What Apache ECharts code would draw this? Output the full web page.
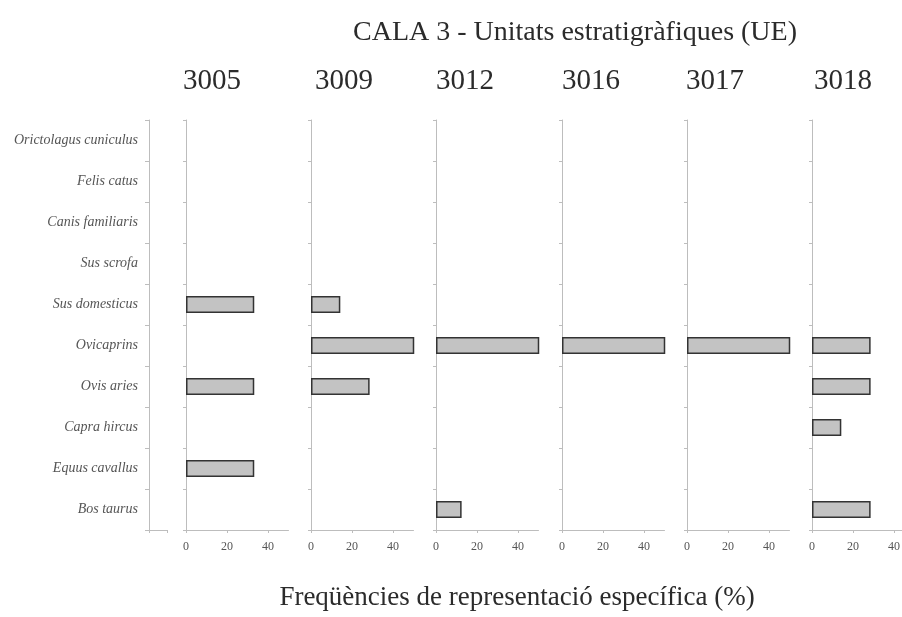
<!DOCTYPE html>
<html>
<head>
<meta charset="utf-8">
<script src="https://cdn.jsdelivr.net/npm/echarts@6/dist/echarts.min.js"></script>
<style>
html, body { margin: 0; padding: 0; background: #fff; }
#chart { width: 902px; height: 617px; }
</style>
</head>
<body>
<div id="chart"></div>
<script>
var species = ["Orictolagus cuniculus", "Felis catus", "Canis familiaris", "Sus scrofa",
    "Sus domesticus", "Ovicaprins", "Ovis aries", "Capra hircus", "Equus cavallus", "Bos taurus"];
var units = ["3005", "3009", "3012", "3016", "3017", "3018"];
var ue3005 = [0, 0, 0, 0, 33.3, 0, 33.3, 0, 33.3, 0];
var ue3009 = [0, 0, 0, 0, 14.3, 57.1, 28.6, 0, 0, 0];
var ue3012 = [0, 0, 0, 0, 0, 87.5, 0, 0, 0, 12.5];
var ue3016 = [0, 0, 0, 0, 0, 100, 0, 0, 0, 0];
var ue3017 = [0, 0, 0, 0, 0, 100, 0, 0, 0, 0];
var ue3018 = [0, 0, 0, 0, 0, 28.6, 28.6, 14.3, 0, 28.6];
var xTicks = [0, 20, 40];

var values = [ue3005, ue3009, ue3012, ue3016, ue3017, ue3018];
var panelLeft = [186, 311, 436, 562, 687, 812];
var headerX = [207, 339, 460, 586, 710, 838];
var serif = "'Liberation Serif', 'DejaVu Serif', serif";
var axisGray = "#bdbdbd";

var chart = echarts.init(document.getElementById("chart"));

var grids = [{ left: 149, top: 120, width: 18, height: 410, outerBoundsMode: "none" }];
var xAxes = [{
    gridIndex: 0, type: "value", min: 0, max: 10, interval: 10,
    axisLine: { show: true, lineStyle: { color: axisGray } },
    axisTick: { show: true, length: 3, lineStyle: { color: axisGray } },
    axisLabel: { show: false }, splitLine: { show: false }
}];
var yAxes = [{
    gridIndex: 0, type: "category", data: species, inverse: true,
    axisLine: { show: true, lineStyle: { color: axisGray } },
    axisTick: { show: true, length: 4, lineStyle: { color: axisGray } },
    axisLabel: { margin: 11, fontFamily: serif, fontStyle: "italic", fontSize: 14, color: "#555" }
}];
var series = [];
var titles = [{
    text: "CALA 3 - Unitats estratigràfiques (UE)", left: 570, top: 14, textAlign: "center",
    textStyle: { fontFamily: serif, fontWeight: "normal", fontSize: 28, color: "#2b2b2b" }
}, {
    text: "Freqüències de representació específica (%)", left: 512, top: 579, textAlign: "center",
    textStyle: { fontFamily: serif, fontWeight: "normal", fontSize: 27, color: "#2b2b2b" }
}];

for (var i = 0; i < units.length; i++) {
    var g = i + 1;
    // the last panel runs past the right edge of the picture
    grids.push({ left: panelLeft[i], top: 120, width: 102.5, height: 410, outerBoundsMode: "none" });
    xAxes.push({
        gridIndex: g, type: "value", min: 0, max: 50, interval: 20,
        axisLine: { show: true, lineStyle: { color: axisGray } },
        axisTick: { show: true, length: 3, lineStyle: { color: axisGray } },
        axisLabel: {
            margin: 11, fontFamily: serif, fontSize: 12, color: "#555", showMaxLabel: false,
            formatter: function (v) { return xTicks.indexOf(v) >= 0 ? String(v) : ""; }
        },
        splitLine: { show: false }
    });
    yAxes.push({
        gridIndex: g, type: "category", data: species, inverse: true,
        axisLine: { show: true, lineStyle: { color: axisGray } },
        axisTick: { show: true, length: 3, lineStyle: { color: axisGray } },
        axisLabel: { show: false }
    });
    series.push({
        type: "bar", xAxisIndex: g, yAxisIndex: g, barWidth: 17, clip: true,
        data: values[i].map(function (v) { return v === 0 ? "-" : v; }),
        itemStyle: { color: "#c3c3c3", borderColor: "#333", borderWidth: 1.5 },
        silent: true
    });
    titles.push({
        text: units[i], left: headerX[i], top: 62, textAlign: "center",
        textStyle: { fontFamily: serif, fontWeight: "normal", fontSize: 29, color: "#2b2b2b" }
    });
}

chart.setOption({
    backgroundColor: "#fff",
    animation: false,
    title: titles,
    grid: grids,
    xAxis: xAxes,
    yAxis: yAxes,
    series: series
});
</script>
</body>
</html>
